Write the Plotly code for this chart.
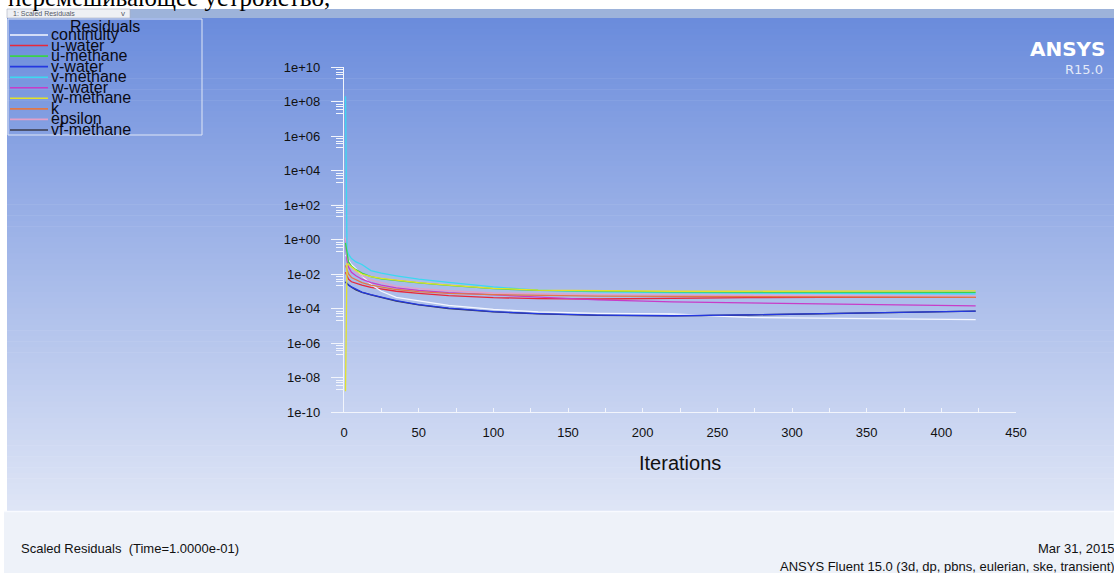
import plotly.graph_objects as go

# ---------------- data ----------------
iterations = [1, 2, 3, 5, 8, 12, 18, 25, 35, 50, 70, 100, 130, 170, 220, 270, 320, 370, 423]

continuity = [1.26e-1, 1.0e-1, 6.3e-2, 3.55e-2, 2.0e-2, 7.9e-3, 2.5e-3, 1.0e-3, 4.47e-4, 2.82e-4,
              1.51e-4, 8.9e-5, 6.3e-5, 5.25e-5, 4.79e-5, 3.02e-5, 2.82e-5, 2.51e-5, 2.24e-5]
u_water = [1.26e-2, 7.9e-3, 5.0e-3, 3.55e-3, 2.82e-3, 2.24e-3, 1.66e-3, 1.32e-3, 1.0e-3, 7.6e-4,
           5.6e-4, 4.27e-4, 3.72e-4, 3.55e-4, 3.98e-4, 4.27e-4, 4.37e-4, 4.47e-4, 4.47e-4]
u_methane = [6.3e-1, 1.26e-1, 5.0e-2, 2.82e-2, 1.78e-2, 1.12e-2, 7.1e-3, 5.25e-3, 4.17e-3, 3.02e-3,
             2.19e-3, 1.41e-3, 1.12e-3, 1.0e-3, 9.1e-4, 8.9e-4, 8.7e-4, 8.7e-4, 8.7e-4]
v_water = [3.55e-3, 2.82e-3, 2.24e-3, 1.78e-3, 1.26e-3, 8.9e-4, 6.3e-4, 4.47e-4, 2.82e-4, 1.66e-4,
           1.05e-4, 6.6e-5, 5.0e-5, 4.1e-5, 3.8e-5, 4.27e-5, 5.0e-5, 6.0e-5, 7.1e-5]
v_methane = [2.0e8, 2.51e-1, 1.41e-1, 7.9e-2, 5.0e-2, 3.55e-2, 1.58e-2, 1.12e-2, 7.9e-3, 5.0e-3,
             3.31e-3, 1.78e-3, 1.17e-3, 9.3e-4, 8.3e-4, 7.9e-4, 7.6e-4, 7.2e-4, 7.1e-4]
w_water = [1.0, 6.3e-2, 2.51e-2, 1.26e-2, 7.9e-3, 5.0e-3, 3.16e-3, 2.24e-3, 1.58e-3, 1.12e-3,
           8.3e-4, 6.3e-4, 5.0e-4, 3.16e-4, 2.4e-4, 2.09e-4, 1.82e-4, 1.62e-4, 1.41e-4]
w_methane = [1.58e-9, 3.98e-2, 3.55e-2, 2.51e-2, 1.58e-2, 1.0e-2, 7.1e-3, 5.6e-3, 4.47e-3, 3.16e-3,
             2.24e-3, 1.48e-3, 1.17e-3, 1.05e-3, 1.0e-3, 1.0e-3, 1.02e-3, 1.05e-3, 1.05e-3]
k_res = [3.16e-2, 1.58e-2, 1.0e-2, 6.3e-3, 4.47e-3, 3.16e-3, 2.24e-3, 1.78e-3, 1.26e-3, 9.5e-4,
         7.6e-4, 6.3e-4, 5.6e-4, 5.25e-4, 5.0e-4, 4.79e-4, 4.68e-4, 4.57e-4, 4.47e-4]
epsilon = [1.26, 1.26e-1, 5.0e-2, 2.51e-2, 1.26e-2, 7.9e-3, 4.47e-3, 3.16e-3, 2.0e-3, 1.41e-3,
           1.07e-3, 7.9e-4, 6.9e-4, 6.3e-4, 5.9e-4, 5.6e-4, 5.4e-4, 5.25e-4, 5.25e-4]
vf_methane = [3.3e-3, 2.7e-3, 2.2e-3, 1.7e-3, 1.2e-3, 8.6e-4, 6.1e-4, 4.3e-4, 2.7e-4, 1.6e-4,
              1.0e-4, 6.4e-5, 4.9e-5, 4.0e-5, 3.75e-5, 4.2e-5, 4.9e-5, 5.9e-5, 7.0e-5]

series_names = ["continuity", "u-water", "u-methane", "v-water", "v-methane",
                "w-water", "w-methane", "k", "epsilon", "vf-methane"]
series_values = [continuity, u_water, u_methane, v_water, v_methane,
                 w_water, w_methane, k_res, epsilon, vf_methane]
series_colors = ["#f4f7ff", "#e8283a", "#3ad24a", "#2438e0", "#3cd8f0",
                 "#c83cc8", "#e2e22a", "#e07848", "#e4a0c8", "#3a3a48"]
draw_order = [9, 1, 0, 3, 5, 8, 7, 4, 2, 6]

x_tick_vals = [0, 50, 100, 150, 200, 250, 300, 350, 400, 450]
y_tick_vals = [1e10, 1e8, 1e6, 1e4, 1e2, 1e0, 1e-2, 1e-4, 1e-6, 1e-8, 1e-10]
y_tick_text = ["1e+10", "1e+08", "1e+06", "1e+04", "1e+02", "1e+00",
               "1e-02", "1e-04", "1e-06", "1e-08", "1e-10"]

# ---------------- layout geometry ----------------
W, H = 1114, 573
ML, MR, MT, MB = 344, 98, 67, 161
PW, PH = W - ML - MR, H - MT - MB


def px(x):
    return (x - ML) / PW


def py(y):
    return (H - MB - y) / PH


fig = go.Figure()
for i in draw_order:
    fig.add_trace(go.Scatter(x=iterations, y=series_values[i], mode="lines",
                             name=series_names[i], showlegend=False,
                             line=dict(color=series_colors[i], width=1.3)))

shapes = []
# gradient background
top_c = (106, 139, 220)
bot_c = (223, 230, 246)
g0, g1 = 18, 511
N = 90
for s in range(N):
    t = (s + 0.5) / N
    c = tuple(int(round(top_c[j] + (bot_c[j] - top_c[j]) * t)) for j in range(3))
    ya = g0 + (g1 - g0) * s / N
    yb = g0 + (g1 - g0) * (s + 1) / N + 0.6
    shapes.append(dict(type="rect", xref="paper", yref="paper", layer="below",
                       x0=px(7), x1=px(W + 2), y0=py(yb), y1=py(ya),
                       fillcolor="rgb(%d,%d,%d)" % c, line=dict(width=0)))
# toolbar strip
shapes.append(dict(type="rect", xref="paper", yref="paper", layer="below",
                   x0=px(7), x1=px(W + 2), y0=py(18), y1=py(9),
                   fillcolor="#9db3da", line=dict(width=0)))
shapes.append(dict(type="rect", xref="paper", yref="paper", layer="below",
                   x0=px(7), x1=px(130), y0=py(18), y1=py(9),
                   fillcolor="#eef0f4", line=dict(width=0.6, color="#a8b0c0")))
# bottom info panel
shapes.append(dict(type="rect", xref="paper", yref="paper", layer="below",
                   x0=px(4), x1=px(W + 2), y0=py(H + 2), y1=py(511),
                   fillcolor="#eef2f9", line=dict(width=0)))
shapes.append(dict(type="line", xref="paper", yref="paper", layer="below",
                   x0=px(4), x1=px(W + 2), y0=py(511.5), y1=py(511.5),
                   line=dict(width=1.5, color="#f8faff")))
# legend box
shapes.append(dict(type="rect", xref="paper", yref="paper", layer="above",
                   x0=px(8), x1=px(202), y0=py(135), y1=py(19),
                   fillcolor="rgba(0,0,0,0)", line=dict(width=1, color="#dfe6f6")))

annotations = []
leg_y0, leg_dy = 35.0, 10.55
for i, (nm, col) in enumerate(zip(series_names, series_colors)):
    yy = leg_y0 + i * leg_dy
    shapes.append(dict(type="line", xref="paper", yref="paper", layer="above",
                       x0=px(10), x1=px(48), y0=py(yy), y1=py(yy),
                       line=dict(width=1.6, color=col)))
    annotations.append(dict(text=nm, xref="paper", yref="paper", x=px(49), y=py(yy - 0.5),
                            xanchor="left", yanchor="middle", showarrow=False,
                            font=dict(family="Liberation Sans, Arial", size=16, color="#0a0a14")))
annotations.append(dict(text="Residuals", xref="paper", yref="paper", x=px(105), y=py(26),
                        xanchor="center", yanchor="middle", showarrow=False,
                        font=dict(family="Liberation Sans, Arial", size=16, color="#0a0a14")))
# top cut text
annotations.append(dict(text="перемешивающее устройство,", xref="paper", yref="paper",
                        x=px(6), y=py(-2.5), xanchor="left", yanchor="middle", showarrow=False,
                        font=dict(family="Liberation Serif, Times New Roman", size=25, color="#000000")))
annotations.append(dict(text="1: Scaled Residuals", xref="paper", yref="paper",
                        x=px(11), y=py(13.5), xanchor="left", yanchor="middle", showarrow=False,
                        font=dict(family="Liberation Sans, Arial", size=7, color="#555a66")))
annotations.append(dict(text="v", xref="paper", yref="paper",
                        x=px(123), y=py(13), xanchor="center", yanchor="middle", showarrow=False,
                        font=dict(family="Liberation Sans, Arial", size=8, color="#555a66")))
# ANSYS logo
annotations.append(dict(text="<b>ANSYS</b>", xref="paper", yref="paper", x=px(1108), y=py(49),
                        xanchor="right", yanchor="middle", showarrow=False,
                        font=dict(family="DejaVu Sans", size=20, color="#ffffff")))
annotations.append(dict(text="R15.0", xref="paper", yref="paper", x=px(1105), y=py(70),
                        xanchor="right", yanchor="middle", showarrow=False,
                        font=dict(family="DejaVu Sans", size=13, color="#e4eaf8")))
# axis title
annotations.append(dict(text="Iterations", xref="paper", yref="paper", x=px(680), y=py(463),
                        xanchor="center", yanchor="middle", showarrow=False,
                        font=dict(family="Liberation Sans, Arial", size=20, color="#111111")))
# bottom info texts
annotations.append(dict(text="Scaled Residuals  (Time=1.0000e-01)", xref="paper", yref="paper",
                        x=px(19), y=py(548), xanchor="left", yanchor="middle", showarrow=False,
                        font=dict(family="Liberation Sans, Arial", size=13, color="#111111")))
annotations.append(dict(text="Mar 31, 2015", xref="paper", yref="paper",
                        x=px(1117), y=py(548), xanchor="right", yanchor="middle", showarrow=False,
                        font=dict(family="Liberation Sans, Arial", size=13, color="#111111")))
annotations.append(dict(text="ANSYS Fluent 15.0 (3d, dp, pbns, eulerian, ske, transient)",
                        xref="paper", yref="paper",
                        x=px(1117), y=py(566), xanchor="right", yanchor="middle", showarrow=False,
                        font=dict(family="Liberation Sans, Arial", size=13, color="#111111")))

minor_y = []
for e in range(10, -10, -2):
    for d in (0.15, 0.3, 0.45, 0.68):
        minor_y.append(10 ** (e - d))

axis_col = "#f2f5fc"
fig.update_layout(
    width=W, height=H, margin=dict(l=ML, r=MR, t=MT, b=MB, pad=0),
    paper_bgcolor="#ffffff", plot_bgcolor="rgba(0,0,0,0)",
    font=dict(family="Liberation Sans, Arial", size=13, color="#111111"),
    shapes=shapes, annotations=annotations, showlegend=False,
    xaxis=dict(range=[0, 450], tickmode="array", tickvals=x_tick_vals,
               ticks="inside", ticklen=4, tickwidth=1, tickcolor=axis_col,
               showline=True, linecolor=axis_col, linewidth=1.2,
               showgrid=False, zeroline=False, ticklabelstandoff=8,
               tickfont=dict(size=13, color="#111111"),
               minor=dict(dtick=25, tick0=0, ticks="inside", ticklen=4, tickcolor=axis_col)),
    yaxis=dict(type="log", range=[-10, 10], tickmode="array", tickvals=y_tick_vals,
               ticktext=y_tick_text, ticks="outside", ticklen=12, tickwidth=1,
               tickcolor=axis_col, showline=True, linecolor=axis_col, linewidth=1.2,
               showgrid=False, zeroline=False, ticklabelstandoff=8,
               tickfont=dict(size=13, color="#111111"),
               minor=dict(tickmode="array", tickvals=minor_y, ticks="outside",
                          ticklen=7, tickwidth=1, tickcolor=axis_col)),
)

fig.write_html("out.html", config={"displayModeBar": False},
               post_script="document.body.style.margin='0';")
